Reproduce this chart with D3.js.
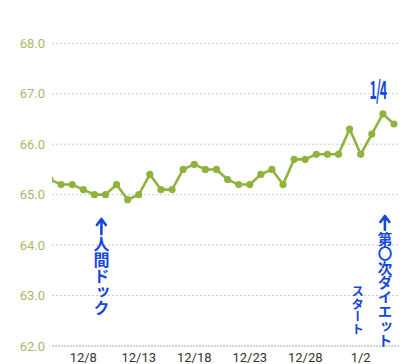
<!DOCTYPE html>
<html>
<head>
<meta charset="utf-8">
<script src="https://d3js.org/d3.v7.min.js"></script>
<style>
body { margin: 0; background: #fff; }
.ylab { font-family: Roboto, "Noto Sans", sans-serif; font-size: 13px; fill: #a6ba6a; }
.xlab { font-family: Roboto, "Noto Sans", sans-serif; font-size: 13px; fill: #333; }
.note { font-family: "Noto Sans CJK JP", sans-serif; font-weight: bold; fill: #1547d8; }
.arrow { fill: none; stroke: #1547d8; stroke-width: 2.6; stroke-linecap: round; stroke-linejoin: round; }
</style>
</head>
<body>
<div id="chart"></div>
<script>
// daily weight, 12/5 .. 1/5
var dates = ["12/5","12/6","12/7","12/8","12/9","12/10","12/11","12/12","12/13","12/14",
  "12/15","12/16","12/17","12/18","12/19","12/20","12/21","12/22","12/23","12/24",
  "12/25","12/26","12/27","12/28","12/29","12/30","12/31","1/1","1/2","1/3","1/4","1/5"];
var weights = [65.3,65.2,65.2,65.1,65.0,65.0,65.2,64.9,65.0,65.4,
  65.1,65.1,65.5,65.6,65.5,65.5,65.3,65.2,65.2,65.4,
  65.5,65.2,65.7,65.7,65.8,65.8,65.8,66.3,65.8,66.2,66.6,66.4];
var yTicks = [62, 63, 64, 65, 66, 67, 68];
var xTickLabels = ["12/8","12/13","12/18","12/23","12/28","1/2"];

var W = 400, H = 364;
var svg = d3.select("#chart").append("svg")
  .attr("width", W).attr("height", H);

var x = d3.scaleLinear().domain([0, dates.length - 1]).range([50, 394]);
var y = d3.scaleLinear().domain([62, 68]).range([346, 43.3]);
var left = 52;

// grid
svg.selectAll(".grid").data(yTicks).enter().append("line")
  .attr("x1", left).attr("x2", W)
  .attr("y1", function(d) { return y(d); }).attr("y2", function(d) { return y(d); })
  .attr("stroke", function(d) { return d === 62 ? "#aaa" : "#ccc"; })
  .attr("stroke-width", 1)
  .attr("stroke-dasharray", function(d) { return d === 62 ? "2,1" : "2,2"; });

svg.selectAll(".ylab").data(yTicks).enter().append("text")
  .attr("class", "ylab")
  .attr("x", 45).attr("y", function(d) { return y(d); })
  .attr("dy", "0.35em").attr("text-anchor", "end")
  .text(function(d) { return d.toFixed(1); });

svg.selectAll(".xlab").data(xTickLabels).enter().append("text")
  .attr("class", "xlab")
  .attr("x", function(d) { return x(dates.indexOf(d)); })
  .attr("y", 362).attr("text-anchor", "middle")
  .text(function(d) { return d; });

svg.append("clipPath").attr("id", "clip")
  .append("rect").attr("x", left).attr("y", 0).attr("width", W - left).attr("height", H);

var g = svg.append("g").attr("clip-path", "url(#clip)");
var line = d3.line()
  .x(function(d, i) { return x(i); })
  .y(function(d) { return y(d); });

g.append("path").datum(weights)
  .attr("d", line)
  .attr("fill", "none")
  .attr("stroke", "#8fb33e")
  .attr("stroke-width", 2.6)
  .attr("stroke-linejoin", "round");

g.selectAll(".dot").data(weights).enter().append("circle")
  .attr("cx", function(d, i) { return x(i); })
  .attr("cy", function(d) { return y(d); })
  .attr("r", 3.6)
  .attr("fill", "#8fb33e");

// handwritten notes
function vnote(txt, cx, top, size, arrow) {
  if (arrow) {
    var len = size * 0.95;
    svg.append("path").attr("class", "arrow")
      .attr("d", "M" + cx + "," + (top + len) + "V" + top +
        "M" + (cx - 4.5) + "," + (top + 6) + "L" + cx + "," + top + "L" + (cx + 4.5) + "," + (top + 6));
    top += len + 2;
  }
  svg.append("text").attr("class", "note")
    .attr("x", cx).attr("y", top)
    .style("writing-mode", "vertical-rl")
    .style("text-orientation", "upright")
    .style("font-size", size + "px")
    .text(txt);
}
vnote("人間ドック", x(dates.indexOf("12/9")) + 7, 219, 16, true);
vnote("第〇次ダイエット", x(dates.indexOf("1/4")) + 2, 216, 14.5, true);
vnote("スタート", x(dates.indexOf("1/2")) - 3, 285, 12.5, false);

svg.append("text").attr("class", "note")
  .attr("transform", "translate(" + (x(dates.indexOf("1/4")) - 5) + ",99) scale(0.5,1)")
  .attr("text-anchor", "middle")
  .style("font-size", "25px")
  .style("letter-spacing", "-2px")
  .text("1/4");
</script>
</body>
</html>
